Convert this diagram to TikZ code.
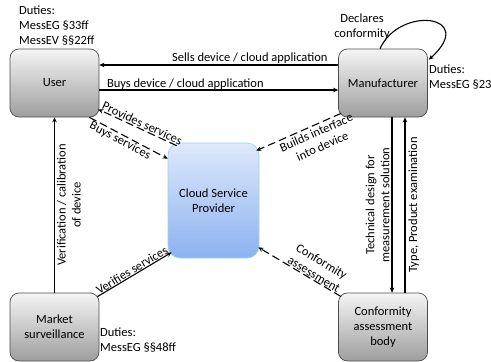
\documentclass[tikz,border=0pt]{standalone}
\usepackage{fontspec}
\setmainfont{Carlito}
\usetikzlibrary{arrows.meta}
\tikzset{
  actor/.style={draw=black!70, line width=0.7pt, rounded corners=9pt,
    top color=black!4, bottom color=black!38, minimum width=89pt,
    minimum height=68pt, align=center, inner sep=2pt},
  cloud/.style={draw=blue!30!black!40!cyan!40, line width=0.7pt, rounded corners=12pt,
    top color={rgb,255:red,222;green,233;blue,251}, bottom color={rgb,255:red,140;green,178;blue,240},
    minimum width=91pt, minimum height=115pt, align=center},
  flow/.style={line width=1.1pt, -{Stealth[length=5pt,width=4.5pt]}},
  svc/.style={line width=1.1pt, dash pattern=on 8pt off 4pt, -{Stealth[length=5pt,width=4.5pt]}},
  lbl/.style={inner sep=1pt, align=center},
  note/.style={align=left, inner sep=0pt, anchor=north west}
}
\begin{document}
\begin{tikzpicture}[x=1pt,y=-1pt,font=\fontsize{12.5}{15}\selectfont]
\useasboundingbox (0,0) rectangle (491,362);

% parties
\node[actor] (user) at (54.5,83) {User};
\node[actor] (man) at (383,83) {Manufacturer};
\node[cloud] (csp) at (213.5,200.5) {Cloud Service\\Provider};
\node[actor] (ms) at (54.5,327) {Market\\surveillance};
\node[actor] (cab) at (383,327) {Conformity\\assessment\\body};

% duties
\node[note] (dutyuser) at (19,6) {Duties:\\MessEG §33ff\\MessEV §§22ff};
\node[note] (dutyman) at (429,65) {Duties:\\MessEG §23};
\node[note] (dutyms) at (100,328) {Duties:\\MessEG §§48ff};

% device trade
\draw[flow] (man.west |- 0,65) -- node[lbl, above, pos=0.37] {Sells device / cloud application} (user.east |- 0,65);
\draw[flow] (user.east |- 0,90) -- node[lbl, above, pos=0.36, inner sep=0.3pt] {Buys device / cloud application} (man.west |- 0,90);

% self declaration
\draw[flow] ([xshift=-3pt]man.north) .. controls (400,5) and (478,15) .. ([shift={(1,11)}]man.north east);
\node[lbl] (declt) at (362,27) {Declares\\conformity};

% cloud services
\draw[svc] ([shift={(9,3)}]csp.north west) -- node[lbl, rotate=-25, anchor=south, pos=0.47, inner sep=1pt] {Provides services} ([shift={(-1,-8)}]user.south east);
\draw[svc] ([shift={(-10,0)}]user.south east) -- node[lbl, rotate=-28, anchor=north, pos=0.43, inner sep=0.5pt] {Buys services} ([shift={(0,16)}]csp.north west);
\draw[svc] ([shift={(3,-4)}]man.south west) -- node[lbl, rotate=24, anchor=north, pos=0.33, inner sep=2.5pt] {Builds interface\\into device} ([shift={(-3,8)}]csp.north east);
\draw[svc] ([shift={(3,4)}]cab.north west) -- node[lbl, rotate=-31, anchor=south, pos=0.36, inner sep=0.5pt] {Conformity\\assessment} ([shift={(-1,-11)}]csp.south east);
\draw[flow] ([shift={(-2,4)}]ms.north east) -- node[lbl, rotate=31, anchor=south, inner sep=0.3pt] {Verifies services} ([shift={(4,-6)}]csp.south west);

% verification and conformity assessment
\draw[flow] (ms.north) -- node[lbl, midway, rotate=90, anchor=north, inner sep=2pt] {Verification / calibration\\of device} (user.south);
\draw[flow] ([xshift=9pt]man.south) -- node[lbl, midway, rotate=90, anchor=south, inner sep=2pt] {Technical design for\\measurement solution} ([xshift=9pt]cab.north);
\draw[flow] ([xshift=22pt]cab.north) -- node[lbl, midway, rotate=90, anchor=north, inner sep=3pt] {Type, Product examination} ([xshift=22pt]man.south);
\end{tikzpicture}
\end{document}
